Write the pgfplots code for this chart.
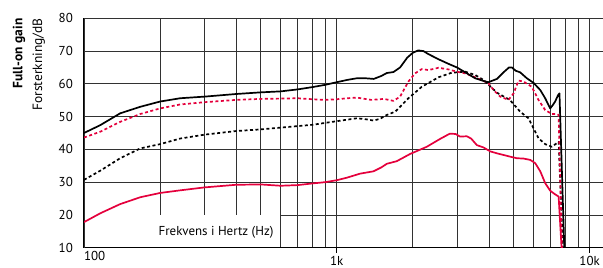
\documentclass[border=0pt]{standalone}
\usepackage{pgfplots}
\pgfplotsset{compat=1.18}
\usepackage{fontspec}
\setmainfont{PT Sans}
\definecolor{cred}{RGB}{228,0,60}
\definecolor{gridc}{RGB}{50,50,50}
\begin{document}
\begin{tikzpicture}
\begin{axis}[name=ax, scale only axis, width=519bp, height=229.4bp,
  xmode=log, xmin=100, xmax=11300, ymin=10, ymax=80,
  axis x line*=bottom, axis y line*=left,
  axis line style={line width=1.1bp, black},
  xtick={1000,10000}, xticklabels={1k,10k},
  extra x ticks={100}, extra x tick labels={\makebox[0pt][l]{100}},
  extra x tick style={major tick length=0pt},
  minor xtick={200,300,400,500,600,700,800,900,2000,3000,4000,5000,6000,7000,8000,9000},
  ytick={10,20,...,80},
  grid=both,
  major grid style={gridc, line width=0.8bp},
  minor grid style={gridc, line width=0.8bp},
  tick align=outside, major tick length=5bp, minor tick length=0pt,
  xtick style={black, line width=0.9bp},
  ytick style={draw=none},
  /pgf/number format/assume math mode=true,
  tick label style={font=\fontsize{13}{15}\selectfont},
  yticklabel style={inner sep=0pt, xshift=-6bp},
  xticklabel style={inner sep=0pt, yshift=-3bp},
  every axis plot/.append style={line width=1.7bp, line join=round},
]
\fill[white] ([xshift=0.7bp,yshift=0.7bp]axis cs:100,10) rectangle ([xshift=-0.45bp,yshift=-0.45bp]axis cs:600,20);
\node[font=\fontsize{13}{15}\selectfont] at (axis cs:333,14.6) {Frekvens i Hertz (Hz)};
% black dashed
\addplot[black, dash pattern=on 3bp off 2.5bp] coordinates {
(100,30.7)(116,33.5)(139,37.3)(167,40.3)(200,41.6)(240,43.3)(300,44.5)(400,45.6)(500,46.1)(700,47.1)(800,47.5)(1000,48.6)(1200,49.5)(1300,49.2)(1396,48.8)(1480,49.3)(1577,50.5)(1701,51.5)(1780,53.0)(1920,55.6)(2168,59.1)(2525,62.0)(2850,63.4)(3222,63.7)(3527,62.7)(3802,61.2)(4298,57.3)(4836,55.1)(5314,51.5)(5731,49.5)(6001,46.4)(6277,43.4)(6674,41.6)(7092,40.8)(7543,42.3)(7850,9)
};
% red dashed
\addplot[cred, dash pattern=on 3bp off 2.5bp] coordinates {
(100,43.6)(116,45.4)(139,48.4)(167,50.8)(200,52.5)(240,53.7)(300,54.4)(400,55.1)(500,55.4)(600,55.5)(700,55.6)(800,55.3)(900,55.1)(1000,55.3)(1100,55.6)(1200,55.8)(1368,55.1)(1538,55.4)(1675,54.8)(1780,56.1)(1920,60.7)(2040,63.2)(2168,64.5)(2306,64.2)(2525,64.9)(2767,64.4)(2987,63.7)(3222,63.2)(3527,62.0)(3981,60.2)(4169,58.1)(4430,56.1)(4779,55.1)(5003,57.1)(5238,61.0)(5476,60.7)(5906,59.1)(6277,55.1)(6674,52.0)(7092,50.8)(7427,50.8)(7543,50.5)(7780,9)
};
% red solid
\addplot[cred] coordinates {
(100,17.8)(116,20.5)(139,23.3)(167,25.4)(200,26.7)(240,27.5)(300,28.4)(400,29.2)(500,29.3)(600,28.9)(700,29.1)(800,29.6)(900,30.0)(1000,30.6)(1100,31.4)(1237,32.6)(1396,33.3)(1500,34.5)(1577,35.6)(1727,36.4)(1950,38.6)(2270,40.8)(2563,43.2)(2800,44.8)(2950,44.7)(3075,43.9)(3268,44.0)(3400,43.3)(3581,41.3)(3802,40.6)(4043,39.4)(4298,38.8)(4563,38.3)(4836,37.8)(5156,37.3)(5476,37.2)(5820,36.8)(6093,35.8)(6382,33.3)(6674,29.7)(6984,27.4)(7300,26.3)(7543,25.6)(7760,9)
};
% black solid
\addplot[black] coordinates {
(100,45.0)(116,47.4)(139,51.0)(167,53.0)(200,54.6)(240,55.6)(300,56.1)(400,56.9)(500,57.4)(600,57.7)(700,58.3)(800,59.0)(900,59.7)(1000,60.5)(1100,61.2)(1200,61.7)(1300,61.7)(1400,61.5)(1500,62.4)(1577,63.3)(1675,63.6)(1780,65.0)(1900,68.0)(2000,69.5)(2100,70.2)(2200,70.0)(2300,69.1)(2525,67.5)(2767,66.1)(2987,65.0)(3222,63.5)(3527,61.7)(3800,60.9)(3981,60.5)(4298,61.5)(4563,63.5)(4800,65.0)(4928,65.0)(5100,64.0)(5314,63.5)(5647,61.7)(6001,60.3)(6382,58.1)(6674,55.6)(6984,52.5)(7150,53.5)(7307,54.6)(7500,56.5)(7602,57.1)(7950,9)
};
\end{axis}
\node[rotate=90, anchor=north east, inner sep=0pt, font=\fontsize{13.5}{15}\selectfont\bfseries] at ([xshift=-71.3bp]ax.north west) {Full-on gain};
\node[rotate=90, anchor=north east, inner sep=0pt, font=\fontsize{13.5}{15}\selectfont] at ([xshift=-51.7bp]ax.north west) {Forsterkning/dB};
\pgfresetboundingbox
\path ([xshift=-84bp,yshift=-20.3bp]ax.south west) rectangle ([yshift=18.3bp]ax.north east);
\end{tikzpicture}
\end{document}
